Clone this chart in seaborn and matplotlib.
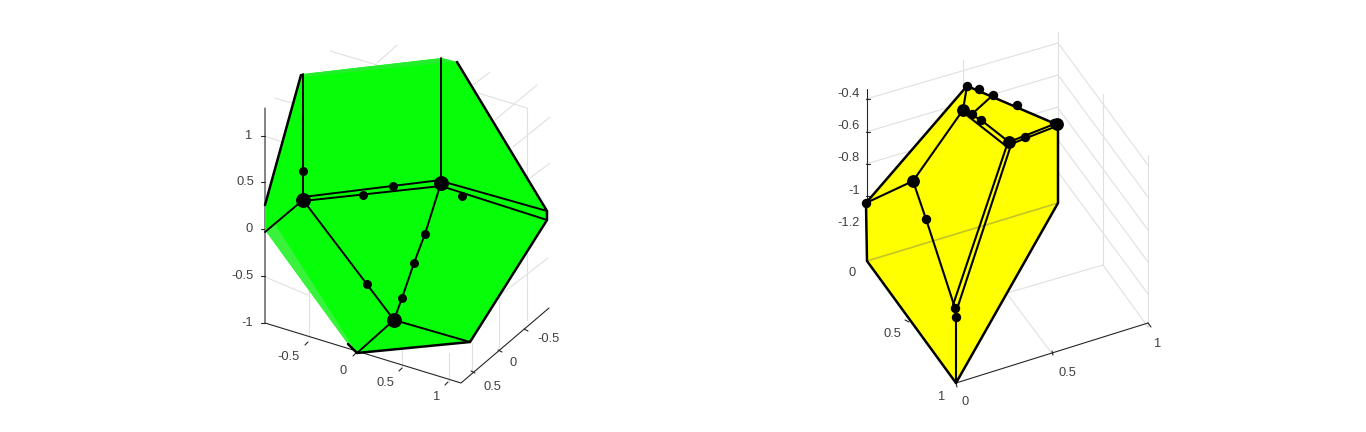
import matplotlib
matplotlib.use("Agg")
import matplotlib.pyplot as plt
import pandas as pd
import seaborn as sns

# ---- Values (screen position of the projected 3D geometry) ----
green_face = [(265,205),(301,75),(303,74),(442,58),(457,62),(547,211),(547,220),(470,342),(357,353),(348,344),(265,230)]
green_side = [(265,230),(275,224),(357,353),(348,344)]
green_top = [(303,74),(442,58),(457,62),(441,63),(303,77)]
green_outline = [[(265,205),(301,75)],[(457,62),(547,211),(547,220),(470,342),(357,353)],[(348,344),(357,353)]]
green_edges = [
    [(303,74),(303,200)],[(441,58),(441,183)],[(303,200),(265,232)],[(303,200),(394,320)],
    [(303,197),(441,180)],[(303,201),(441,186)],[(441,181),(547,211)],[(441,186),(547,220)],
    [(441,183),(425,234),(414,263),(402,298),(394,320)],[(394,320),(357,353)],[(394,320),(470,342)],
]
green_big = [(303,200),(441,183),(394,320)]
green_small = [(303,171),(393,186),(363,195),(462,196),(425,234),(414,263),(402,298),(367,284)]
green_grid = [
    [(330,51),(377,65)],[(397,45),(377,63)],[(275,98),(292,103)],[(265,136),(282,142)],
    [(527,108),(478,93)],[(527,108),(527,320)],[(490,72),(473,85)],[(537,85),(495,120)],
    [(550,117),(513,147)],[(550,163),(530,178)],[(548,258),(500,295)],[(265,277),(308,295)],
    [(309,290),(309,337)],[(499,295),(499,350)],[(472,343),(472,373)],[(402,347),(402,368)],
    [(449,353),(449,382)],
]
green_axes = [
    [(265,108),(265,323),(461,383),(549,308)],
    [(261,136),(265,136)],[(261,182),(265,182)],[(261,229),(265,229)],[(261,276),(265,276)],[(261,323),(265,323)],
    [(308,342),(305,345)],[(356,353),(353,356)],[(402,368),(399,371)],[(448,382),(445,385)],
    [(475,373),(471,371)],[(502,352),(498,350)],[(528,331),(524,329)],
]
green_labels = [("1",249,136),("0.5",245,182),("0",249,229),("-0.5",242,276),("-1",247,323),
                ("-0.5",289,357),("0",343,371),("0.5",385,383),("1",437,397),
                ("-0.5",548,339),("0",513,363),("0.5",492,387)]

yellow_face = [(866,203),(967,86),(1058,125),(1058,203),(956,383),(867,261)]
yellow_outline = [[(866,203),(967,86),(1058,125),(1058,203),(956,383),(867,261),(866,203)]]
yellow_edges = [
    [(967,86),(963,110),(913,181),(866,203)],[(913,181),(926,219),(955,308),(956,317),(956,383)],
    [(993,95),(972,114)],[(963,110),(981,120),(1009,142)],[(964,113),(1006,146)],
    [(1009,142),(1057,123)],[(1011,144),(1057,126)],[(1007,145),(953,305)],[(1011,145),(958,306)],
]
yellow_big = [(963,110),(1009,142),(913,181),(1057,124)]
yellow_small = [(967,86),(979,89),(993,95),(1017,105),(972,114),(981,120),(1025,137),(866,203),(926,219),(955,308),(956,317),(1054,123)]
yellow_grid = [
    [(866,99),(1058,43)],[(866,132),(1058,75)],[(866,164),(1058,107)],[(1058,32),(1058,125)],[(963,60),(963,86)],
    [(1058,43),(1148,165)],[(1058,75),(1148,197)],[(1058,108),(1148,230)],[(1058,140),(1148,262)],[(1058,172),(1148,294)],
    [(1103,94),(1103,265)],[(1148,155),(1148,327)],[(1103,265),(1007,293)],[(1103,265),(1148,327)],[(1008,295),(1053,355)],
]
yellow_shadow = [[(867,261),(1058,203)]]
yellow_axes = [
    [(866.5,89),(866.5,261)],[(956,383),(1148,323)],
    [(866,99),(870,99)],[(866,132),(870,132)],[(866,164),(870,164)],[(866,196),(870,196)],[(866,227),(870,227)],
    [(1053,355),(1052,351)],[(1148,323),(1151,327)],[(909,322),(905,320)],[(956,383),(957,387)],
]
yellow_labels = [("-0.4",849,94),("-0.6",849,126),("-0.8",849,158),("-1",854,191),("-1.2",849,223),
                 ("0",852,273),("0.5",892,334),("1",942,397),("0",965,402),("0.5",1067,373),("1",1158,344)]

GREEN, GREEN_SIDE, GREEN_TOP = "#06ff08", "#38f23c", "#24ee2c"
YELLOW = "#ffff00"


def segments(groups):
    rows = []
    for i, g in enumerate(groups):
        rows += [{"seg": i, "order": k, "x": p[0], "y": p[1]} for k, p in enumerate(g)]
    return pd.DataFrame(rows)


def lines(ax, groups, color, lw, z):
    sns.lineplot(data=segments(groups), x="x", y="y", units="seg", estimator=None, sort=False,
                 color=color, linewidth=lw, ax=ax, zorder=z, legend=False, solid_capstyle="round")


def nodes(ax, pts, size):
    df = pd.DataFrame(pts, columns=["x", "y"])
    sns.scatterplot(data=df, x="x", y="y", s=size, color="black", edgecolor="black",
                    linewidth=0, ax=ax, zorder=6, legend=False)


sns.set_theme(style="white")
plt.rcParams["font.family"] = ["Liberation Sans", "DejaVu Sans"]
fig = plt.figure(figsize=(13.66, 4.32), dpi=100)
ax = fig.add_axes([0, 0, 1, 1])

lines(ax, green_grid, "#e0e0e0", 0.8, 1)
lines(ax, yellow_grid, "#e0e0e0", 0.8, 1)
lines(ax, green_axes, "#262626", 0.8, 2)
lines(ax, yellow_axes, "#262626", 0.8, 2)

ax.fill(*zip(*green_face), color=GREEN, lw=0, zorder=3)
ax.fill(*zip(*green_side), color=GREEN_SIDE, lw=0, zorder=3)
ax.fill(*zip(*green_top), color=GREEN_TOP, lw=0, zorder=3)
ax.fill(*zip(*yellow_face), color=YELLOW, lw=0, zorder=3)

lines(ax, yellow_shadow, "#c4c42a", 1.2, 4)
lines(ax, green_outline, "black", 1.8, 5)
lines(ax, yellow_outline, "black", 1.8, 5)
lines(ax, green_edges, "black", 1.4, 5)
lines(ax, yellow_edges, "black", 1.5, 5)

nodes(ax, green_big, 115)
nodes(ax, green_small, 42)
nodes(ax, yellow_big, 85)
nodes(ax, yellow_small, 46)

for txt, x, y in green_labels + yellow_labels:
    ax.text(x, y, txt, fontsize=9.3, color="#404040", ha="center", va="center", zorder=7)

ax.set_xlim(0, 1366)
ax.set_ylim(432, 0)
ax.axis("off")
fig.savefig("out.png", dpi=100, facecolor="white")
